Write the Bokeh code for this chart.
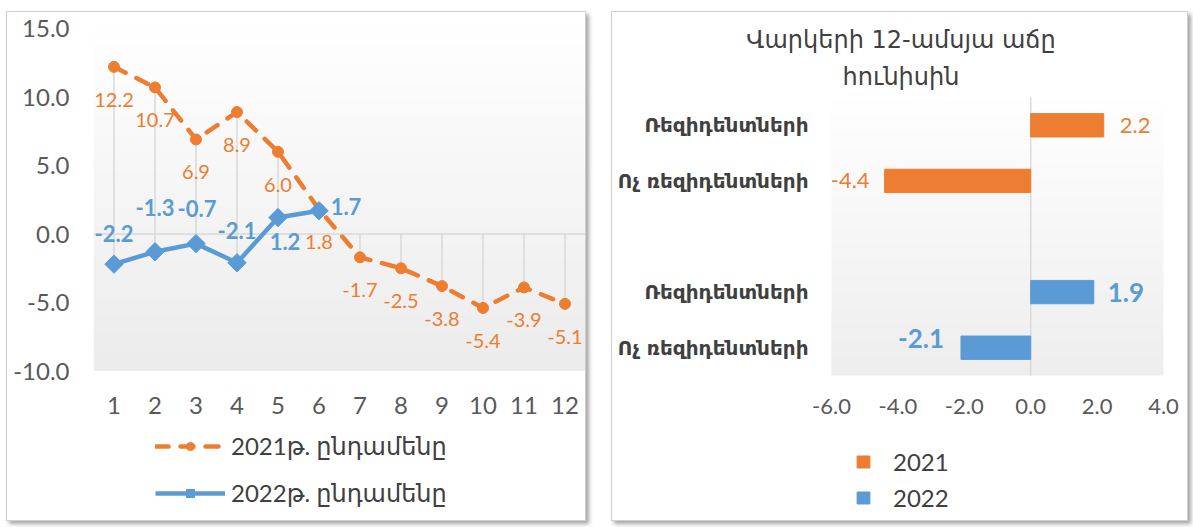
import numpy as np
from bokeh.plotting import figure
from bokeh.models import (ColumnDataSource, Label, LabelSet, Legend, LegendItem,
                          FixedTicker, NumeralTickFormatter, Spacer, Range1d)
from bokeh.layouts import row
from bokeh.core.properties import value
from bokeh.embed import file_html
from bokeh.resources import INLINE

# ---------------- data ----------------
months = [1, 2, 3, 4, 5, 6, 7, 8, 9, 10, 11, 12]
total_2021 = [12.2, 10.7, 6.9, 8.9, 6.0, 1.8, -1.7, -2.5, -3.8, -5.4, -3.9, -5.1]
total_2022 = [-2.2, -1.3, -0.7, -2.1, 1.2, 1.7]
line_series_names = ["2021թ. ընդամենը", "2022թ. ընդամենը"]
left_y_ticks = [-10, -5, 0, 5, 10, 15]

bar_categories = ["Ռեզիդենտների", "Ոչ ռեզիդենտների"]
bar_2021 = [2.2, -4.4]
bar_2022 = [1.9, -2.1]
bar_years = ["2021", "2022"]
bar_x_ticks = [-6, -4, -2, 0, 2, 4]
title_lines = ["Վարկերի 12-ամսյա աճը", "հունիսին"]

# ---------------- style ----------------
ORANGE = "#ED7D31"
BLUE = "#5B9BD5"
TICK_TXT = "#595959"
DARK_TXT = "#404040"
NUM_FONT = "Lato"
ARM_FONT = "DejaVu Sans"
MIX_FONT = "Lato, DejaVu Sans"
SHADOW = "3px 3px 4px rgba(0,0,0,0.35)"

# label offsets (screen px) for the 2022 line labels
blue_dx = [0, 0, 1, 0, 7, 27]
blue_dy = [31, 44, 35, 32, -24, 4]

FIG_H = 510
W1, W2, GAP = 580, 577, 25


def add_gradient(p, x0, x1, y0, y1, top_hex, bottom_hex, n=128):
    t = np.linspace(0.0, 1.0, n)
    def rgb(h):
        return np.array([int(h[i:i + 2], 16) for i in (1, 3, 5)], dtype=float)
    c = rgb(bottom_hex)[None, :] * (1 - t[:, None]) + rgb(top_hex)[None, :] * t[:, None]
    img = np.zeros((n, 1), dtype=np.uint32)
    v = img.view(dtype=np.uint8).reshape((n, 1, 4))
    v[:, 0, 0] = c[:, 0]
    v[:, 0, 1] = c[:, 1]
    v[:, 0, 2] = c[:, 2]
    v[:, 0, 3] = 255
    p.image_rgba(image=[img], x=x0, y=y0, dw=x1 - x0, dh=y1 - y0, level="image")


def span_range(v_top, py_top, v_bot, py_bot, frame_top, frame_bot):
    """range whose values v_top/v_bot fall at pixel rows py_top/py_bot of a frame."""
    k = (py_bot - py_top) / (v_top - v_bot)
    return Range1d(v_bot - (frame_bot - py_bot) / k, v_top + (py_top - frame_top) / k), k


# ================= left: line chart =================
yr1, k1 = span_range(15, 16, -10, 358.5, 0, FIG_H)
p1 = figure(width=W1, height=FIG_H, x_range=Range1d(0.5, 12.5), y_range=yr1,
            output_backend="svg", toolbar_location=None, x_axis_location=None,
            min_border_left=86, min_border_right=2,
            min_border_top=0, min_border_bottom=0)
p1.title.visible = False
p1.styles = {"border": "1px solid #cfcfcf", "box-shadow": SHADOW,
             "margin-top": "11px", "margin-left": "6px"}
p1.border_fill_color = "white"
p1.background_fill_color = "white"
p1.grid.visible = False
p1.outline_line_color = None
add_gradient(p1, 0.5, 12.5, -10, 15, "#ffffff", "#ececec")

# high-low lines
seg_top, seg_bot = [], []
for i, m in enumerate(months):
    vals = [total_2021[i], total_2022[i] if i < len(total_2022) else 0.0]
    seg_top.append(max(vals))
    seg_bot.append(min(vals))
p1.segment(x0=months, y0=seg_top, x1=months, y1=seg_bot, line_color="#d9d9d9", line_width=1.5)
p1.segment(x0=[0.5], y0=[0], x1=[12.5], y1=[0], line_color="#d9d9d9", line_width=1.5)

src21 = ColumnDataSource(dict(x=months, y=total_2021,
                              lab=[f"{v:.1f}" for v in total_2021]))
src22 = ColumnDataSource(dict(x=months[:len(total_2022)], y=total_2022,
                              lab=[f"{v:.1f}" for v in total_2022],
                              dx=blue_dx, dy=blue_dy))

l21 = p1.line("x", "y", source=src21, line_color=ORANGE, line_width=4.5,
              line_dash="13 12", line_cap="round")
s21 = p1.scatter("x", "y", source=src21, marker="circle", size=11,
                 fill_color=ORANGE, line_color=ORANGE)
l22 = p1.line("x", "y", source=src22, line_color=BLUE, line_width=4.5)
s22 = p1.scatter("x", "y", source=src22, marker="square", angle=np.pi / 4, size=13,
                 fill_color=BLUE, line_color=BLUE)

p1.add_layout(LabelSet(x="x", y="y", text="lab", source=src21, y_offset=-33,
                       text_align="center", text_baseline="middle", text_color=ORANGE,
                       text_font=value(NUM_FONT), text_font_size="20px"))
p1.add_layout(LabelSet(x="x", y="y", text="lab", source=src22, x_offset="dx", y_offset="dy",
                       text_align="center", text_baseline="middle", text_color=BLUE,
                       text_font=value(NUM_FONT), text_font_size="22px",
                       text_font_style="bold"))

# category (x) tick labels, drawn under the plot area
xt_src = ColumnDataSource(dict(x=months, y=[-10] * len(months), t=[str(m) for m in months]))
p1.add_layout(LabelSet(x="x", y="y", text="t", source=xt_src, y_offset=-34,
                       text_align="center", text_baseline="middle", text_color=TICK_TXT,
                       text_font=value(NUM_FONT), text_font_size="24px"))

p1.yaxis.ticker = FixedTicker(ticks=left_y_ticks)
p1.yaxis.formatter = NumeralTickFormatter(format="0.0")
p1.yaxis.major_label_standoff = 18
p1.yaxis.axis_line_color = None
p1.yaxis.major_tick_line_color = None
p1.yaxis.minor_tick_line_color = None
p1.yaxis.major_label_text_font = NUM_FONT
p1.yaxis.major_label_text_font_size = "24px"
p1.yaxis.major_label_text_color = TICK_TXT

leg1 = Legend(items=[LegendItem(label=line_series_names[0], renderers=[l21, s21]),
                     LegendItem(label=line_series_names[1], renderers=[l22, s22])],
              location=(62, 14), orientation="vertical",
              glyph_width=70, glyph_height=20, label_standoff=6, spacing=17,
              padding=0, margin=0, border_line_color=None, background_fill_alpha=0,
              label_text_font=MIX_FONT, label_text_font_size="24px",
              label_text_color=DARK_TXT)
p1.add_layout(leg1)

# ================= right: bar chart =================
# whole figure is the frame; plot area -6..4 spans px 219..551, rows -0.5..4.5 span 85..363
R_PA_LEFT, R_PA_RIGHT = 219, 551
kx2 = (R_PA_RIGHT - R_PA_LEFT) / 10.0
xr2 = Range1d(-6 - R_PA_LEFT / kx2, 4 + (W2 - R_PA_RIGHT) / kx2)
yr2, k2 = span_range(4.5, 85, -0.5, 363, 0, FIG_H)
p2 = figure(width=W2, height=FIG_H, x_range=xr2, y_range=yr2,
            output_backend="svg", toolbar_location=None,
            x_axis_location=None, y_axis_location=None,
            min_border_left=0, min_border_right=0, min_border_top=0, min_border_bottom=0)
p2.title.visible = False
p2.styles = {"border": "1px solid #cfcfcf", "box-shadow": SHADOW, "margin-top": "11px"}
p2.border_fill_color = "white"
p2.background_fill_color = "white"
p2.grid.visible = False
p2.outline_line_color = None
add_gradient(p2, -6, 4, -0.5, 4.5, "#ffffff", "#eeeeee")

n_cat = len(bar_categories)
y_2022 = [n_cat - 1 - i for i in range(n_cat)]                  # bottom group
y_2021 = [n_cat + 1 + (n_cat - 1 - i) for i in range(n_cat)]    # top group, one empty slot

src_b21 = ColumnDataSource(dict(y=y_2021, v=bar_2021, lab=[f"{v:.1f}" for v in bar_2021],
                                dx=[16 if v >= 0 else -15 for v in bar_2021],
                                al=["left" if v >= 0 else "right" for v in bar_2021]))
src_b22 = ColumnDataSource(dict(y=y_2022, v=bar_2022, lab=[f"{v:.1f}" for v in bar_2022],
                                dx=[14 if v >= 0 else -17 for v in bar_2022],
                                dy=[0 if v >= 0 else 9 for v in bar_2022],
                                al=["left" if v >= 0 else "right" for v in bar_2022]))

p2.segment(x0=[0], y0=[-0.5], x1=[0], y1=[4.5], line_color="#d9d9d9", line_width=1.5)
b21 = p2.hbar(y="y", left=0, right="v", height=0.42, source=src_b21,
              fill_color=ORANGE, line_color=ORANGE)
b22 = p2.hbar(y="y", left=0, right="v", height=0.42, source=src_b22,
              fill_color=BLUE, line_color=BLUE)

p2.add_layout(LabelSet(x="v", y="y", text="lab", source=src_b21, x_offset="dx",
                       text_align="al", text_baseline="middle", text_color=ORANGE,
                       text_font=value(NUM_FONT), text_font_size="22px"))
p2.add_layout(LabelSet(x="v", y="y", text="lab", source=src_b22, x_offset="dx", y_offset="dy",
                       text_align="al", text_baseline="middle", text_color=BLUE,
                       text_font=value(NUM_FONT), text_font_size="26px",
                       text_font_style="bold"))

# x tick labels
bt_src = ColumnDataSource(dict(x=bar_x_ticks, y=[-0.5] * len(bar_x_ticks),
                               t=[f"{v:.1f}" for v in bar_x_ticks]))
p2.add_layout(LabelSet(x="x", y="y", text="t", source=bt_src, y_offset=-31,
                       text_align="center", text_baseline="middle", text_color=TICK_TXT,
                       text_font=value(NUM_FONT), text_font_size="22px"))
# category labels
cat_src = ColumnDataSource(dict(x=[-6] * (2 * n_cat), y=y_2021 + y_2022,
                                t=bar_categories + bar_categories))
p2.add_layout(LabelSet(x="x", y="y", text="t", source=cat_src, x_offset=-23,
                       text_align="right", text_baseline="middle", text_color=DARK_TXT,
                       text_font=value(ARM_FONT), text_font_size="20px",
                       text_font_style="bold"))

# title centred on the panel
title_x = xr2.start + (W2 / 2) / kx2
for txt, py in zip(title_lines, [27, 64]):
    p2.add_layout(Label(x=title_x, y=yr2.end - py / k2, text=txt, text_align="center",
                        text_baseline="middle", text_font=ARM_FONT, text_font_size="24px",
                        text_color=DARK_TXT))

leg2 = Legend(items=[LegendItem(label=bar_years[0], renderers=[b21]),
                     LegendItem(label=bar_years[1], renderers=[b22])],
              location=(243, 10), orientation="vertical",
              glyph_width=16, glyph_height=15, label_standoff=22, spacing=7,
              padding=0, margin=0, border_line_color=None, background_fill_alpha=0,
              label_text_font=NUM_FONT, label_text_font_size="24px",
              label_text_color=DARK_TXT)
p2.add_layout(leg2)

layout = row(p1, Spacer(width=GAP), p2)
open("out.html", "w").write(file_html(layout, INLINE))
